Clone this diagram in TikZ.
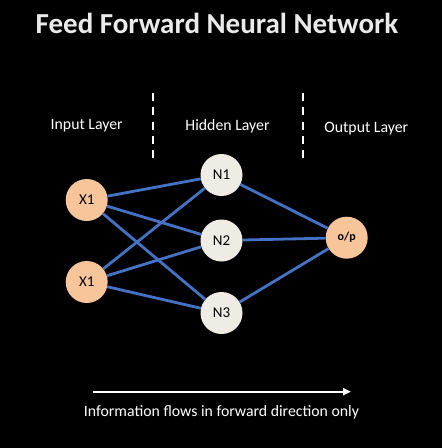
\documentclass[tikz,border=0pt]{standalone}
\usepackage{fontspec}
\setmainfont{Carlito}
\usetikzlibrary{arrows.meta}
\definecolor{edgeblue}{HTML}{4472C4}
\definecolor{inorange}{HTML}{F8C49A}
\definecolor{hidgray}{HTML}{EEECE4}
\definecolor{txtgray}{HTML}{EAEAEA}
\begin{document}
\begin{tikzpicture}[x=1pt,y=-1pt,
  neuron/.style={circle,minimum size=42pt,inner sep=0pt,font=\fontsize{15}{17}\selectfont,text=black},
  inneuron/.style={neuron,fill=inorange},
  hidneuron/.style={neuron,fill=hidgray},
  link/.style={edgeblue,line width=2.8pt},
  divider/.style={white,line width=2pt,dash pattern=on 8pt off 6.3pt},
  layerlabel/.style={text=white,font=\fontsize{15.8}{18}\selectfont,anchor=base}]
\fill[black] (0,0) rectangle (442,448);
\useasboundingbox (0,0) rectangle (442,448);
\node[text=txtgray,font=\bfseries\fontsize{29}{32}\selectfont] (title) at (217,23) {Feed Forward Neural Network};
\coordinate (d1a) at (152.7,93); \coordinate (d1b) at (152.7,164);
\coordinate (d2a) at (302.7,93); \coordinate (d2b) at (302.7,164);
\draw[divider] (d1a) -- (d1b);
\draw[divider] (d2a) -- (d2b);
\node[layerlabel] (lin) at (86.7,129.3) {Input Layer};
\node[layerlabel] (lhid) at (227.5,130) {Hidden Layer};
\node[layerlabel] (lout) at (366.3,132.7) {Output Layer};
\node[inneuron] (x1) at (86.7,200) {X1};
\node[inneuron] (x2) at (86.7,282) {X1};
\node[hidneuron] (n1) at (221.5,175) {N1};
\node[hidneuron] (n2) at (221.5,240.5) {N2};
\node[hidneuron] (n3) at (221.5,313) {N3};
\node[inneuron,font=\bfseries\fontsize{12}{14}\selectfont] (op) at (346.7,237.7) {o/p};
\foreach \a in {x1,x2}{\foreach \b in {n1,n2,n3}{\draw[link] (\a) -- (\b);}}
\foreach \b in {n1,n2,n3}{\draw[link] (\b) -- (op);}
\coordinate (aa) at (93,391.7); \coordinate (ab) at (351,391.7);
\draw[white,line width=2pt,-{Triangle[length=8pt,width=7pt]}] (aa) -- (ab);
\node[text=white,font=\fontsize{15.8}{18}\selectfont,anchor=base] (cap) at (221.5,416) {Information flows in forward direction only};
\end{tikzpicture}
\end{document}
